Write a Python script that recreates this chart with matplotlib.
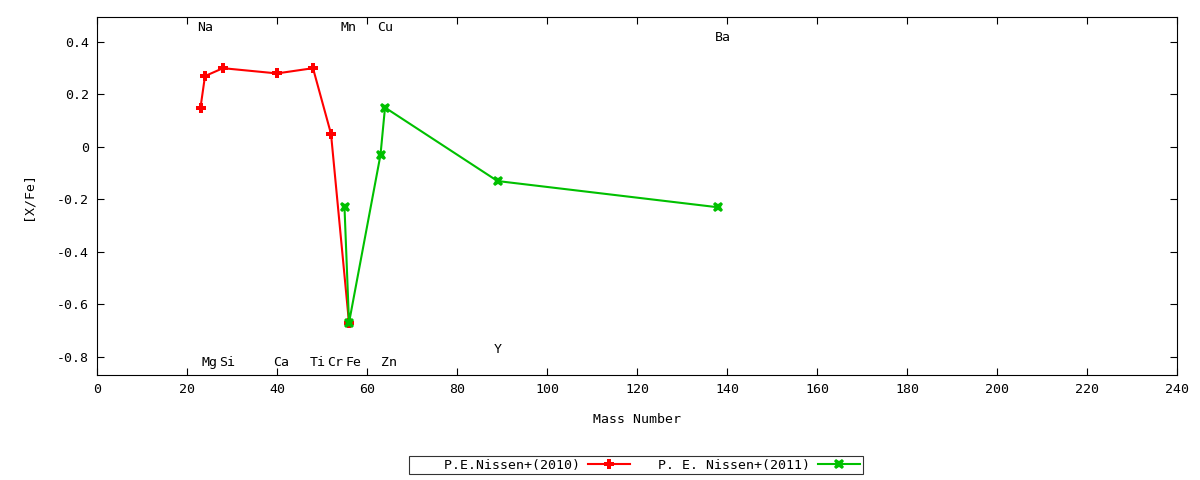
## [X/Fe] abundance ratios vs. mass number, two Nissen data sets

import numpy as np
import matplotlib
matplotlib.use('Agg')
import matplotlib.pyplot as plt
from matplotlib.ticker import FuncFormatter

plt.rcParams['font.family'] = 'DejaVu Sans Mono'
plt.rcParams['axes.unicode_minus'] = False

# Nissen+ (2010)
mass_2010 = [23, 24, 28, 40, 48, 52, 56]
xfe_2010  = [0.15, 0.27, 0.30, 0.28, 0.30, 0.05, -0.67]

# Nissen+ (2011)
mass_2011 = [55, 56, 63, 64, 89, 138]
xfe_2011  = [-0.23, -0.67, -0.03, 0.15, -0.13, -0.23]

# element labels: name, mass number, y position
elem_names = ['Na', 'Mg', 'Si', 'Ca', 'Ti', 'Cr', 'Mn', 'Fe', 'Cu', 'Zn', 'Y', 'Ba']
elem_mass  = [23, 24, 28, 40, 48, 52, 55, 56, 63, 64, 89, 138]
elem_ypos  = [0.455, -0.823, -0.823, -0.823, -0.823, -0.823, 0.455, -0.823, 0.455, -0.823, -0.77, 0.418]

fs = 9.5
red = '#ff0000'
green = '#00c000'

fig = plt.figure(figsize=(12, 4.8), dpi=100, facecolor='white')
ax = fig.add_axes([97/1200, 1-375/480, 1080/1200, 358/480])

l1, = ax.plot(mass_2010, xfe_2010, color=red, lw=1.5, marker='P', ms=7.5, mew=0)
l2, = ax.plot(mass_2011, xfe_2011, color=green, lw=1.5, marker='X', ms=7.5, mew=0)

for name, m, y in zip(elem_names, elem_mass, elem_ypos):
    ax.text(m - 0.8, y, name, ha='left', va='center', fontsize=fs)

ax.set_xlim(0, 240)
ax.set_ylim(-0.869, 0.495)
ax.set_xticks(np.arange(0, 241, 20))
ax.set_yticks([-0.8, -0.6, -0.4, -0.2, 0, 0.2, 0.4])
ax.yaxis.set_major_formatter(FuncFormatter(lambda v, p: '0' if abs(v) < 1e-9 else '%g' % v))
ax.tick_params(direction='in', top=True, right=True, labelsize=fs, length=5, width=0.8, pad=6)
for s in ax.spines.values():
    s.set_linewidth(0.8)

ax.set_xlabel('Mass Number', fontsize=fs, labelpad=12)
ax.set_ylabel('[X/Fe]', fontsize=fs, labelpad=16)

leg = fig.legend([l1, l2], ['    P.E.Nissen+(2010)', '   P. E. Nissen+(2011)'],
                 loc='center', bbox_to_anchor=(636/1200, 1-465/480), ncol=2,
                 markerfirst=False, fontsize=fs, handlelength=3.2,
                 frameon=True, fancybox=False, borderpad=0.2, columnspacing=0.3,
                 handletextpad=0.6, borderaxespad=0)
leg.get_frame().set_edgecolor('black')
leg.get_frame().set_linewidth(0.8)

plt.savefig('out.png', dpi=100, facecolor='white')
